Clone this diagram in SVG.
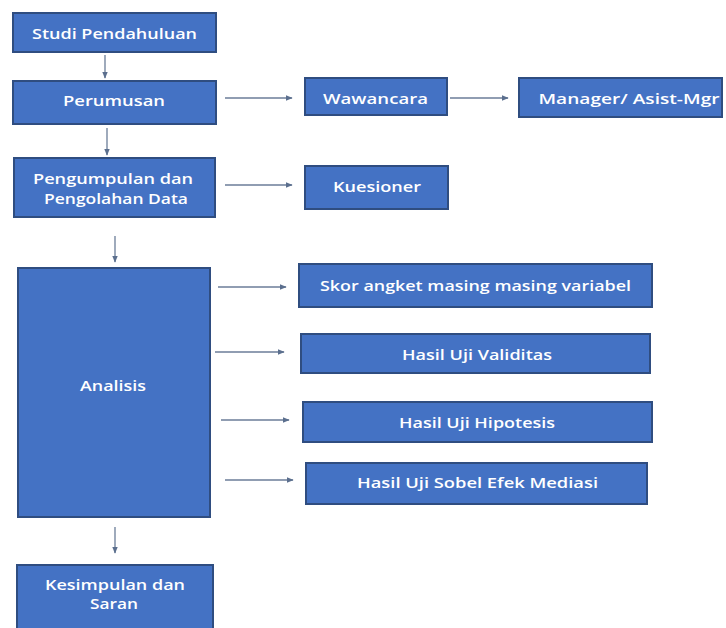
<svg xmlns="http://www.w3.org/2000/svg" width="726" height="628" viewBox="0 0 726 628">
<defs>
<marker id="ah" viewBox="0 0 10 10" refX="9" refY="5" markerWidth="7" markerHeight="7" markerUnits="userSpaceOnUse" orient="auto">
<path d="M0,1 L10,5 L0,9 z" fill="#5b6f8e"/>
</marker>
<style>
.b{fill:#4472c4;stroke:#2f4d80;stroke-width:2}
.t{fill:#ffffff;font-family:"Open Sans","Liberation Sans",sans-serif;font-size:14px;font-weight:600;text-anchor:middle;dominant-baseline:central}
.c{stroke:#6b7d98;stroke-width:1.3;fill:none;marker-end:url(#ah)}
</style>
</defs>
<rect width="726" height="628" fill="#ffffff"/>
<g id="studi"><rect class="b" x="13" y="13" width="203" height="39"/><text class="t" x="114.5" y="33" textLength="165" lengthAdjust="spacingAndGlyphs">Studi Pendahuluan</text></g>
<g id="perumusan"><rect class="b" x="13" y="81" width="203" height="43"/><text class="t" x="114" y="100" textLength="102" lengthAdjust="spacingAndGlyphs">Perumusan</text></g>
<g id="pengumpulan"><rect class="b" x="14" y="158" width="201" height="59"/><text class="t" x="113" y="178" textLength="160" lengthAdjust="spacingAndGlyphs">Pengumpulan dan</text><text class="t" x="116" y="198" textLength="144" lengthAdjust="spacingAndGlyphs">Pengolahan Data</text></g>
<g id="wawancara"><rect class="b" x="305" y="78" width="142" height="37"/><text class="t" x="375.5" y="98" textLength="105" lengthAdjust="spacingAndGlyphs">Wawancara</text></g>
<g id="manager"><rect class="b" x="519" y="78" width="203" height="39"/><text class="t" x="629" y="98" textLength="181" lengthAdjust="spacingAndGlyphs">Manager/ Asist-Mgr</text></g>
<g id="kuesioner"><rect class="b" x="305" y="166" width="143" height="43"/><text class="t" x="377" y="186" textLength="88" lengthAdjust="spacingAndGlyphs">Kuesioner</text></g>
<g id="analisis"><rect class="b" x="18" y="268" width="192" height="249"/><text class="t" x="113" y="385" textLength="66" lengthAdjust="spacingAndGlyphs">Analisis</text></g>
<g id="skor"><rect class="b" x="299" y="264" width="353" height="43"/><text class="t" x="475.5" y="285" textLength="311" lengthAdjust="spacingAndGlyphs">Skor angket masing masing variabel</text></g>
<g id="validitas"><rect class="b" x="301" y="334" width="349" height="39"/><text class="t" x="477" y="354" textLength="150" lengthAdjust="spacingAndGlyphs">Hasil Uji Validitas</text></g>
<g id="hipotesis"><rect class="b" x="303" y="402" width="349" height="40"/><text class="t" x="477" y="422" textLength="156" lengthAdjust="spacingAndGlyphs">Hasil Uji Hipotesis</text></g>
<g id="sobel"><rect class="b" x="306" y="463" width="341" height="41"/><text class="t" x="477.5" y="482" textLength="241" lengthAdjust="spacingAndGlyphs">Hasil Uji Sobel Efek Mediasi</text></g>
<g id="kesimpulan"><rect class="b" x="17" y="565" width="196" height="70"/><text class="t" x="115" y="584" textLength="140" lengthAdjust="spacingAndGlyphs">Kesimpulan dan</text><text class="t" x="114" y="603" textLength="48" lengthAdjust="spacingAndGlyphs">Saran</text></g>
<g id="connectors">
<line class="c" x1="105" y1="55" x2="105" y2="78"/>
<line class="c" x1="107" y1="128" x2="107" y2="155"/>
<line class="c" x1="115" y1="236" x2="115" y2="262"/>
<line class="c" x1="115" y1="527" x2="115" y2="553"/>
<line class="c" x1="225" y1="98" x2="292" y2="98"/>
<line class="c" x1="450" y1="98" x2="508" y2="98"/>
<line class="c" x1="225" y1="185" x2="292" y2="185"/>
<line class="c" x1="218" y1="287" x2="286" y2="287"/>
<line class="c" x1="215" y1="352" x2="284" y2="352"/>
<line class="c" x1="221" y1="420" x2="289" y2="420"/>
<line class="c" x1="225" y1="480" x2="293" y2="480"/>
</g>
</svg>
